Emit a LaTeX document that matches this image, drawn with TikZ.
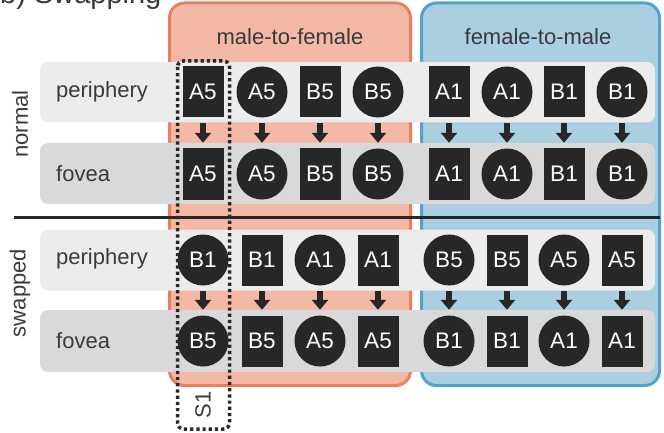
\documentclass[tikz,border=0pt]{standalone}
\usepackage{fontspec}
\setmainfont{Liberation Sans}
\usetikzlibrary{arrows.meta}
\definecolor{salfill}{HTML}{F4B8A6}
\definecolor{salline}{HTML}{E8805F}
\definecolor{blufill}{HTML}{AACFE0}
\definecolor{bluline}{HTML}{55A2C9}
\definecolor{bandlight}{HTML}{ECECEC}
\definecolor{banddark}{HTML}{D9D9D9}
\definecolor{ink}{HTML}{272727}
\definecolor{txt}{HTML}{3A3A3A}
\tikzset{
  grp/.style={line width=3pt, rounded corners=15pt},
  band/.style={rounded corners=8pt},
  lbl/.style={text=txt, font=\fontsize{22}{26}\selectfont, inner sep=0pt},
  sqn/.style={rectangle, fill=ink, text=white, minimum width=41pt, minimum height=51pt, inner sep=0pt, font=\fontsize{22.5}{26}\selectfont},
  cin/.style={circle, fill=ink, text=white, minimum size=51pt, inner sep=0pt, font=\fontsize{22.5}{26}\selectfont},
  barrow/.style={draw=ink, line width=6.5pt, -{Triangle[width=16pt,length=10pt]}, shorten <=5.5pt, shorten >=5.5pt},
}
\begin{document}
\begin{tikzpicture}[x=1pt,y=-1pt]
\useasboundingbox (0,0) rectangle (664,433);
% cropped header
\node[anchor=base west, inner sep=0pt, text=txt, font=\fontsize{29}{32}\selectfont] (hdr) at (0,3.5) {b) Swapping};
% group boxes
\draw[grp, draw=salline, fill=salfill] (169.5,3) rectangle (410.5,385.5);
\draw[grp, draw=bluline, fill=blufill] (421.5,3) rectangle (659.5,385.5);
\node[lbl] (t1) at (290,37) {male-to-female};
\node[lbl] (t2) at (538,37) {female-to-male};
% bands
\fill[band, bandlight] (40,62) rectangle (655,122.5);
\fill[band, banddark] (40,143) rectangle (655,204);
\fill[band, bandlight] (40,229.5) rectangle (655,290.5);
\fill[band, banddark] (40,310) rectangle (655,372);
% separator
\draw[line width=3pt, ink] (14,217) -- (660,217);
% row labels
\node[lbl, anchor=west] (lp1) at (56,92) {periphery};
\node[lbl, anchor=west] (lf1) at (56,174) {fovea};
\node[lbl, anchor=west] (lp2) at (56,259) {periphery};
\node[lbl, anchor=west] (lf2) at (56,341) {fovea};
\node[lbl, rotate=90] (gn) at (20,124) {normal};
\node[lbl, rotate=90] (gs) at (20,293) {swapped};
% shapes
\foreach \k/\xa/\xb/\la/\lb/\lc in {1/203/262/A5/B1/B5, 2/320/378/B5/A1/A5, 3/449/507/A1/B5/B1, 4/564/622/B1/A5/A1} {
  \node[sqn] (np\k a) at (\xa,92) {\la};
  \node[cin] (np\k b) at (\xb,92) {\la};
  \node[sqn] (nf\k a) at (\xa,174) {\la};
  \node[cin] (nf\k b) at (\xb,174) {\la};
  \node[cin] (sp\k a) at (\xa,260) {\lb};
  \node[sqn] (sp\k b) at (\xb,260) {\lb};
  \node[cin] (sf\k a) at (\xa,341) {\lc};
  \node[sqn] (sf\k b) at (\xb,341) {\lc};
  \draw[barrow] (np\k a) -- (nf\k a);
  \draw[barrow] (np\k b) -- (nf\k b);
  \draw[barrow] (sp\k a) -- (sf\k a);
  \draw[barrow] (sp\k b) -- (sf\k b);
}
% S1 dotted box
\draw[ink, line width=3.5pt, dash pattern=on 3.2pt off 3pt, rounded corners=6pt] (177.5,61) rectangle (229.5,429);
\node[lbl, rotate=90] (s1) at (203,405) {S1};
\end{tikzpicture}
\end{document}
